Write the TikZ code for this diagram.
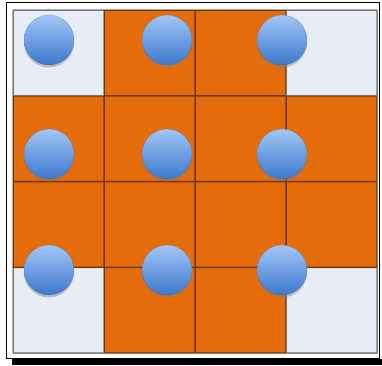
\documentclass[tikz,border=0pt]{standalone}
\usetikzlibrary{shadows}
\definecolor{tileorange}{RGB}{228,108,10}
\definecolor{tilelight}{RGB}{232,236,244}
\definecolor{balltop}{RGB}{162,198,246}
\definecolor{ballbottom}{RGB}{60,120,205}

\begin{document}
\begin{tikzpicture}[x=1pt, y=-1pt,
	tile/.style={draw=black, line width=1.5pt},
	ball/.style={circle, minimum size=50pt, inner sep=0pt, top color=balltop, bottom color=ballbottom,
		draw=ballbottom!70!black, draw opacity=0.35,
		drop shadow={shadow xshift=0pt, shadow yshift=-2.5pt, opacity=0.45}}]

	\useasboundingbox (0,0) rectangle (382,365);
	\fill[black] (12,358.5) rectangle (382,365);
	\draw[fill=white, line width=1pt] (6,2.5) rectangle (379.5,358);

	\fill[tileorange] (13,10) rectangle (377,353);
	\foreach \x/\y in {13/10, 286/10, 13/267.5, 286/267.5}
		\fill[tilelight] (\x,\y) rectangle ++(91,85.5);

	\begin{scope}[transparency group, opacity=0.5]
	\foreach \i in {0,...,4} {
		\draw[tile] (13+91*\i, 10) -- (13+91*\i, 353);
		\draw[tile] (13, 10+85.75*\i) -- (377, 10+85.75*\i);
	}
	\end{scope}

	\foreach \r/\y in {1/40, 2/154, 3/270}
		\foreach \c/\x in {1/49, 2/167, 3/282}
			\node[ball] (ball\r\c) at (\x,\y) {};
\end{tikzpicture}
\end{document}
